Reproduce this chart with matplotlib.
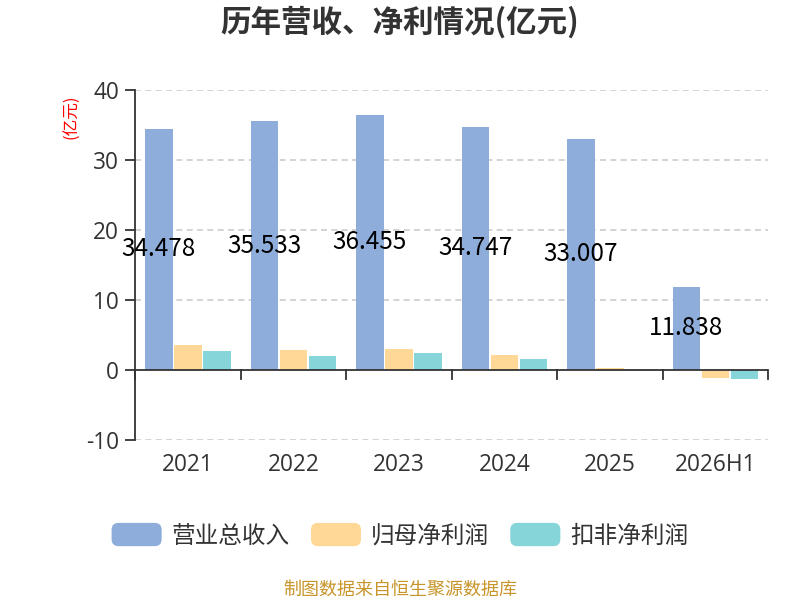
import matplotlib
matplotlib.use("Agg")
import matplotlib.pyplot as plt
import numpy as np
from matplotlib.patches import FancyBboxPatch
from matplotlib.legend_handler import HandlerPatch

plt.rcParams["font.family"] = ["Noto Sans CJK SC", "DejaVu Sans"]
plt.rcParams["axes.unicode_minus"] = False

years = ["2021", "2022", "2023", "2024", "2025", "2026H1"]
revenue = [34.478, 35.533, 36.455, 34.747, 33.007, 11.838]
net_profit = [3.5, 2.83, 3.03, 2.11, 0.3, -1.2]
deducted_profit = [2.74, 2.03, 2.46, 1.5, -0.12, -1.35]

series_names = ["营业总收入", "归母净利润", "扣非净利润"]
colors = ["#8eaddb", "#ffd898", "#86d5d8"]
num_font = ["Open Sans", "Noto Sans CJK SC"]


class RoundHandler(HandlerPatch):
    def create_artists(self, legend, orig_handle, xdescent, ydescent,
                       width, height, fontsize, trans):
        p = FancyBboxPatch((-xdescent, -ydescent), width, height,
                           boxstyle="round,pad=0,rounding_size=5",
                           fc=orig_handle.get_facecolor(), ec="none",
                           transform=trans)
        return [p]


fig = plt.figure(figsize=(8, 6), dpi=100)
ax = fig.add_axes([0.169, 0.267, 0.791, 0.583])

x = np.arange(len(years))
w = 0.26
step = 0.275
for i, vals in enumerate([revenue, net_profit, deducted_profit]):
    ax.bar(x + (i - 1) * step, vals, width=w, color=colors[i],
           label=series_names[i], zorder=3)

for xi, v in zip(x, revenue):
    ax.text(xi - step, v / 2, f"{v:.3f}", ha="center", va="center",
            fontsize=17.5, color="black", zorder=5)

ax.set_xlim(-0.5, len(years) - 0.5)
ax.set_ylim(-10, 40)
ax.set_yticks([-10, 0, 10, 20, 30, 40])
for yv in [-10, 10, 20, 30, 40]:
    ax.axhline(yv, color="#cccccc", linestyle=(0, (3.6, 2.6)), linewidth=1.2, zorder=1)

for s in ["top", "right", "bottom"]:
    ax.spines[s].set_visible(False)
ax.spines["left"].set_color("#333333")
ax.spines["left"].set_linewidth(1.3)
ax.axhline(0, color="#333333", linewidth=1.3, zorder=4)

# category boundary ticks on the zero line
ax.set_xticks([])
for bx in np.arange(-0.5, len(years), 1.0):
    ax.plot([bx, bx], [0, -1.3], color="#333333", linewidth=1.3, zorder=4,
            clip_on=False)
for xi, lab in zip(x, years):
    ax.text(xi, -13.6, lab, ha="center", va="center", fontsize=16.3,
            color="#333333", family=num_font)

ax.tick_params(axis="y", labelsize=16.3, colors="#333333", length=7.2,
               width=1.3, pad=4.5)
for t in ax.get_yticklabels():
    t.set_family(num_font)

fig.text(0.5, 0.962, "历年营收、净利情况(亿元)", ha="center", va="center",
         fontsize=22, fontweight="bold", color="#333333")
fig.text(0.09, 0.805, "(亿元)", ha="center", va="center", rotation=90,
         fontsize=12, color="red")

handles = [plt.Rectangle((0, 0), 1, 1, fc=c) for c in colors]
leg = fig.legend(handles, series_names, loc="center", bbox_to_anchor=(0.5, 0.108),
                 ncol=3, frameon=False, fontsize=17, handlelength=2.12,
                 handleheight=1.14, columnspacing=0.9, handletextpad=0.42,
                 handler_map={plt.Rectangle: RoundHandler()})
for t in leg.get_texts():
    t.set_color("#333333")

fig.text(0.5, 0.017, "制图数据来自恒生聚源数据库", ha="center", va="center",
         fontsize=13, color="#c8952a")

fig.savefig("out.png", dpi=100)
